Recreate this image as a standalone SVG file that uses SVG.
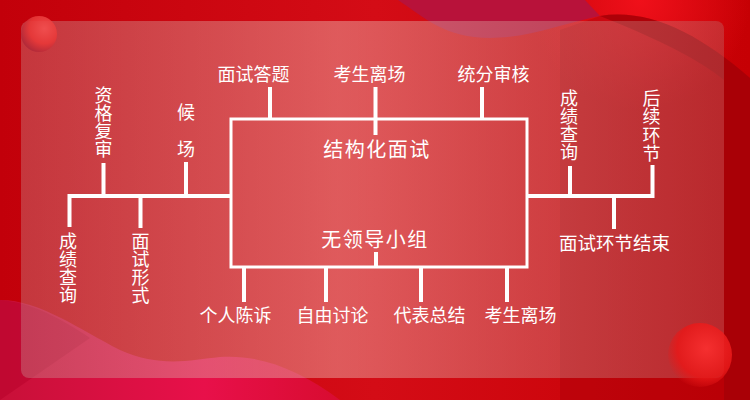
<svg xmlns="http://www.w3.org/2000/svg" width="750" height="400" viewBox="0 0 750 400">
<defs>
<linearGradient id="bg" x1="0" y1="0" x2="1" y2="0">
<stop offset="0" stop-color="#c2000a"/>
<stop offset="0.5" stop-color="#d40c16"/>
<stop offset="1" stop-color="#c60004"/>
</linearGradient>
<radialGradient id="glowTR" cx="640" cy="0" r="110" gradientUnits="userSpaceOnUse">
<stop offset="0" stop-color="#f0101a"/>
<stop offset="1" stop-color="#f0101a" stop-opacity="0"/>
</radialGradient>
<linearGradient id="panel" x1="0" y1="0" x2="1" y2="0">
<stop offset="0" stop-color="rgb(200,150,150)" stop-opacity="0.36"/>
<stop offset="0.45" stop-color="rgb(240,200,190)" stop-opacity="0.42"/>
<stop offset="1" stop-color="rgb(185,120,120)" stop-opacity="0.34"/>
</linearGradient>
<linearGradient id="wavePink" x1="0" y1="0" x2="1" y2="0">
<stop offset="0" stop-color="#c81038"/>
<stop offset="0.6" stop-color="#e8104a"/>
<stop offset="1" stop-color="#d80c30"/>
</linearGradient>
<radialGradient id="ball" cx="0.65" cy="0.35" r="0.7">
<stop offset="0" stop-color="#f45050"/>
<stop offset="0.6" stop-color="#e83838"/>
<stop offset="1" stop-color="#b02838"/>
</radialGradient>
<radialGradient id="ball2" cx="0.6" cy="0.4" r="0.65">
<stop offset="0" stop-color="#ff3030"/>
<stop offset="0.7" stop-color="#e81818"/>
<stop offset="1" stop-color="#e81818" stop-opacity="0"/>
</radialGradient>
</defs>
<style>
.lbl{font-family:"Noto Sans CJK SC","Noto Sans",sans-serif;font-size:18px;fill:#fff;}
.big{font-family:"Noto Sans CJK SC","Noto Sans",sans-serif;font-size:20px;fill:#fff;letter-spacing:1.5px;}
.mid{text-anchor:middle;}
.ln{stroke:#fff;stroke-width:4;fill:none;}
.box{stroke:#fff;stroke-width:3;fill:none;}
</style>
<!-- background -->
<rect x="0" y="0" width="750" height="400" fill="url(#bg)"/>
<rect x="500" y="0" width="250" height="110" fill="url(#glowTR)"/>
<path d="M398,0 C425,18 445,38 490,38 C530,38 560,24 600,16 L585,0 Z" fill="#b8123a"/>
<path d="M600,16 C650,8 700,35 750,78 L750,400 L724,400 L724,80 C700,60 660,40 600,16 Z" fill="#a80006" opacity="0.8"/>
<path d="M600,16 C650,8 700,35 750,78 L750,400 L560,400 L560,30 Z" fill="#a00008" opacity="0.35"/>
<path d="M0,300 C40,300 80,330 120,350 C160,368 190,360 220,357 C260,354 300,370 340,400 L0,400 Z" fill="url(#wavePink)"/>
<path d="M0,300 C30,302 60,318 90,338 L0,400 Z" fill="#b8002a" opacity="0.5"/>
<!-- panel -->
<rect x="21" y="21" width="703" height="357" rx="8" fill="url(#panel)"/>
<circle cx="39" cy="34" r="18" fill="url(#ball)" opacity="0.9"/>
<circle cx="700" cy="355" r="32" fill="url(#ball2)" opacity="0.85"/>

<g id="connectors">
<path class="ln" d="M270,87 V119 M375.5,87 V135 M482,87 V119"/>
<path class="ln" d="M231,196 H67.5 M69.5,196 V227 M140.5,196 V228 M103.5,163 V196 M186,162 V196"/>
<path class="ln" d="M527,196 H654.5 M570,166 V196 M652.5,165 V196 M614,196 V229"/>
<path class="ln" d="M244,267 V302 M326,267 V302 M421,267 V302 M507,267 V302 M376,252 V267"/>
</g>

<g id="center">
<rect class="box" x="231" y="119" width="296" height="148"/>
<text class="big mid" x="377" y="157">结构化面试</text>
<text class="big mid" x="375" y="247">无领导小组</text>
</g>

<g id="n-mianshidati"><text class="lbl mid" x="253.5" y="81">面试答题</text></g>
<g id="n-kaosheng-top"><text class="lbl mid" x="369.5" y="81">考生离场</text></g>
<g id="n-tongfen"><text class="lbl mid" x="493.5" y="81">统分审核</text></g>

<g id="n-zige"><text class="lbl mid"><tspan x="103.5" y="102">资</tspan><tspan x="103.5" y="120">格</tspan><tspan x="103.5" y="138">复</tspan><tspan x="103.5" y="156">审</tspan></text></g>
<g id="n-houchang"><text class="lbl mid"><tspan x="186" y="119">候</tspan><tspan x="186" y="156">场</tspan></text></g>
<g id="n-chengji-left"><text class="lbl mid"><tspan x="68" y="248">成</tspan><tspan x="68" y="266">绩</tspan><tspan x="68" y="284">查</tspan><tspan x="68" y="302">询</tspan></text></g>
<g id="n-xingshi"><text class="lbl mid"><tspan x="140.5" y="248">面</tspan><tspan x="140.5" y="266">试</tspan><tspan x="140.5" y="284">形</tspan><tspan x="140.5" y="302">式</tspan></text></g>

<g id="n-chengji-right"><text class="lbl mid"><tspan x="569" y="105">成</tspan><tspan x="569" y="123">绩</tspan><tspan x="569" y="141">查</tspan><tspan x="569" y="159">询</tspan></text></g>
<g id="n-houxu"><text class="lbl mid"><tspan x="651.5" y="104.5">后</tspan><tspan x="651.5" y="123">续</tspan><tspan x="651.5" y="141.5">环</tspan><tspan x="651.5" y="160">节</tspan></text></g>
<g id="n-jieshu"><text class="lbl mid" x="614.5" y="250" style="font-size:18.5px">面试环节结束</text></g>

<g id="n-chensu"><text class="lbl mid" x="235.5" y="322">个人陈诉</text></g>
<g id="n-taolun"><text class="lbl mid" x="332.5" y="322">自由讨论</text></g>
<g id="n-zongjie"><text class="lbl mid" x="429.5" y="322">代表总结</text></g>
<g id="n-kaosheng-bottom"><text class="lbl mid" x="520.5" y="322">考生离场</text></g>
</svg>
